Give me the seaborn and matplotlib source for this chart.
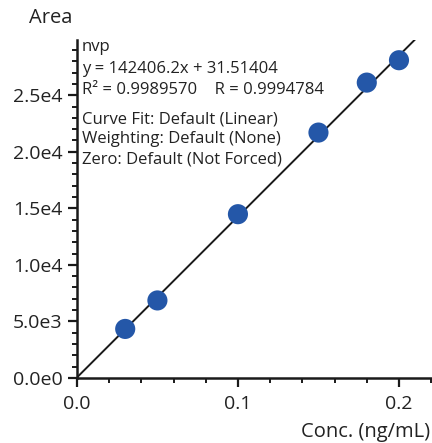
import matplotlib
matplotlib.use("Agg")
import matplotlib.pyplot as plt
import seaborn as sns
import numpy as np
import pandas as pd
from matplotlib.ticker import MultipleLocator, FuncFormatter

# calibration points
conc = [0.03, 0.05, 0.10, 0.15, 0.18, 0.20]
area = [4330, 6850, 14480, 21700, 26120, 28100]

slope = 142406.2
intercept = 31.51404
compound = "nvp"

sns.set_theme(style="white")
plt.rcParams['font.family'] = ['Open Sans', 'DejaVu Sans']

def sci_fmt(v, pos):
    if v == 0:
        return "0.0e0"
    exp = int(np.floor(np.log10(abs(v))))
    return f"{v / 10**exp:.1f}e{exp}"

df = pd.DataFrame({"conc": conc, "area": area})

fig = plt.figure(figsize=(4.32, 4.43), dpi=100)
ax = fig.add_axes([0.178, 0.147, 0.822, 0.763])

xs = np.array([0.0, 0.23])
ax.plot(xs, slope * xs + intercept, color="#1a1a1a", lw=1.4, zorder=2)
sns.scatterplot(data=df, x="conc", y="area", ax=ax, s=210, color="#2457a8",
                edgecolor="none", zorder=3)

ax.set_xlim(0, 0.2205)
ax.set_ylim(0, 29900)
ax.xaxis.set_major_locator(MultipleLocator(0.1))
ax.xaxis.set_minor_locator(MultipleLocator(0.02))
ax.yaxis.set_major_locator(MultipleLocator(5000))
ax.yaxis.set_minor_locator(MultipleLocator(1000))
ax.yaxis.set_major_formatter(FuncFormatter(sci_fmt))
ax.xaxis.set_major_formatter(FuncFormatter(lambda v, p: f"{v:.1f}"))

for s in ["top", "right"]:
    ax.spines[s].set_visible(False)
for s in ["left", "bottom"]:
    ax.spines[s].set_linewidth(1.8)
    ax.spines[s].set_color("#1a1a1a")

ax.tick_params(which="major", direction="out", length=6.5, width=1.6,
               labelsize=14, labelcolor="#222222", color="#1a1a1a",
               left=True, bottom=True)
ax.tick_params(axis="y", which="major", pad=4)
ax.tick_params(axis="x", which="major", pad=6)
ax.tick_params(which="minor", direction="out", length=3.5, width=1.4,
               color="#1a1a1a", left=True, bottom=True)
ax.set_xlabel("")
ax.set_ylabel("")

fig.text(0.068, 0.96, "Area", fontsize=14.5, color="#222222", va="center", ha="left")
fig.text(0.995, 0.025, "Conc. (ng/mL)", fontsize=14.5, color="#222222",
         va="center", ha="right")

tx = 0.19
txt_kw = dict(fontsize=12, color="#222222", va="center", ha="left")
fig.text(tx, 1 - 47 / 443, compound, **txt_kw)
fig.text(tx, 1 - 69 / 443, f"y = {slope}x + {intercept}", **txt_kw)
fig.text(tx, 1 - 90 / 443, "R² = 0.9989570    R = 0.9994784", **txt_kw)
fig.text(tx, 1 - 119 / 443, "Curve Fit: Default (Linear)", **txt_kw)
fig.text(tx, 1 - 139 / 443, "Weighting: Default (None)", **txt_kw)
fig.text(tx, 1 - 159 / 443, "Zero: Default (Not Forced)", **txt_kw)

fig.savefig("out.png", dpi=100)
